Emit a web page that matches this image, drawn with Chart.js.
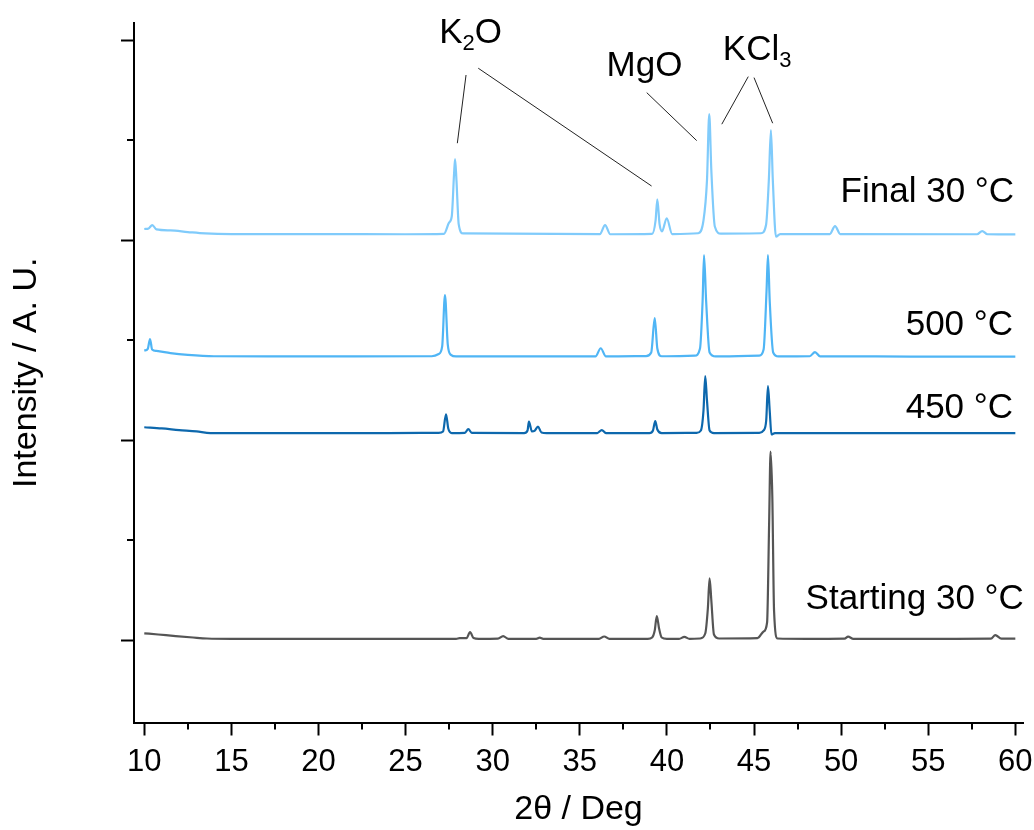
<!DOCTYPE html>
<html>
<head>
<meta charset="utf-8">
<title>XRD patterns</title>
<script src="https://cdn.jsdelivr.net/npm/chart.js@4.4.1/dist/chart.umd.min.js"></script>
<style>
  html, body { margin: 0; padding: 0; background: #ffffff; }
  #wrap { width: 1034px; height: 830px; }
</style>
</head>
<body>
<div id="wrap"><canvas id="xrd" width="1034" height="830"></canvas></div>
<script>
// Stacked XRD patterns (2θ in degrees, intensity in arbitrary units incl. stacking offset)
const startAngles = [10.0, 10.8, 11.8, 12.8, 13.6, 15.0, 18.0, 21.0, 24.0, 27.0, 27.9, 28.1, 28.5, 28.7, 28.9, 29.2, 30.3, 30.6, 30.9, 32.5, 32.7, 32.9, 36.1, 36.4, 36.7, 38.9, 39.15, 39.3, 39.42, 39.55, 39.7, 40.0, 40.7, 41.0, 41.3, 41.9, 42.2, 42.35, 42.45, 42.55, 42.7, 43.0, 45.2, 45.55, 45.75, 45.87, 45.95, 46.05, 46.15, 46.35, 48.0, 50.2, 50.4, 50.7, 53.0, 56.0, 58.6, 58.85, 59.2, 60.0];
const startCounts = [36, 30, 22, 15, 10, 8, 8, 8, 8, 8, 8, 12, 12, 42, 12, 8, 9, 22, 8, 8, 14, 8, 8, 20, 8, 8, 15, 50, 122, 60, 15, 8, 8, 18, 8, 10, 35, 160, 311, 200, 30, 10, 12, 45, 90, 600, 944, 720, 150, 10, 8, 9, 19, 8, 8, 8, 9, 27, 9, 9];

const t450Angles = [10.0, 11.0, 12.0, 13.0, 13.8, 16.0, 20.0, 24.0, 26.9, 27.15, 27.32, 27.45, 27.65, 28.4, 28.6, 28.8, 31.8, 32.0, 32.08, 32.25, 32.4, 32.6, 32.8, 33.1, 36.0, 36.26, 36.5, 39.0, 39.2, 39.33, 39.45, 39.7, 41.7, 41.95, 42.1, 42.2, 42.3, 42.45, 42.7, 45.3, 45.55, 45.7, 45.8, 45.9, 46.0, 46.2, 50.0, 55.0, 60.0];
const t450Counts = [1066, 1060, 1052, 1045, 1037, 1037, 1037, 1037, 1038, 1045, 1131, 1060, 1037, 1038, 1057, 1038, 1037, 1050, 1094, 1045, 1048, 1069, 1040, 1037, 1037, 1052, 1037, 1037, 1050, 1097, 1055, 1037, 1038, 1050, 1150, 1322, 1200, 1050, 1037, 1038, 1050, 1100, 1272, 1150, 1030, 1037, 1037, 1037, 1037];

const t500Angles = [10.0, 10.2, 10.33, 10.45, 10.7, 11.5, 12.5, 14.0, 18.0, 22.0, 26.5, 26.9, 27.1, 27.26, 27.42, 27.6, 27.9, 35.9, 36.2, 36.5, 38.8, 39.1, 39.3, 39.45, 39.7, 41.6, 41.9, 42.05, 42.13, 42.25, 42.45, 42.8, 45.3, 45.55, 45.72, 45.8, 45.9, 46.1, 46.4, 48.2, 48.5, 48.8, 52.0, 56.0, 60.0];
const t500Counts = [1449, 1458, 1507, 1455, 1448, 1437, 1428, 1421, 1420, 1420, 1421, 1432, 1470, 1727, 1480, 1428, 1420, 1420, 1461, 1420, 1422, 1440, 1612, 1460, 1421, 1424, 1460, 1700, 1927, 1700, 1440, 1420, 1424, 1455, 1750, 1927, 1700, 1440, 1420, 1421, 1442, 1420, 1420, 1419, 1419];

const finalAngles = [10.0, 10.25, 10.46, 10.7, 11.5, 12.5, 13.5, 15.0, 20.0, 25.0, 27.2, 27.5, 27.65, 27.78, 27.84, 27.92, 28.05, 28.3, 36.15, 36.45, 36.75, 39.15, 39.35, 39.45, 39.58, 39.72, 39.99, 40.3, 41.8, 42.1, 42.3, 42.43, 42.55, 42.75, 43.1, 45.4, 45.69, 45.85, 45.97, 46.08, 46.26, 46.5, 49.35, 49.65, 49.95, 57.8, 58.1, 58.4, 60.0];
const finalCounts = [2057, 2060, 2077, 2055, 2050, 2042, 2035, 2032, 2032, 2031, 2033, 2090, 2120, 2330, 2406, 2300, 2080, 2035, 2032, 2077, 2031, 2033, 2100, 2206, 2080, 2045, 2111, 2032, 2036, 2100, 2300, 2631, 2350, 2070, 2034, 2036, 2077, 2300, 2552, 2300, 2019, 2032, 2032, 2072, 2032, 2031, 2047, 2031, 2030];

const seriesNames = ['Starting 30 °C', '450 °C', '500 °C', 'Final 30 °C'];

// Axis ticks
const xMajorStep = 5;
const xMinorTicks = [12.5, 17.5, 22.5, 27.5, 32.5, 37.5, 42.5, 47.5, 52.5, 57.5];
const yMajorTicks = [0, 1000, 2000, 3000];
const yMinorTicks = [500, 1500, 2500];

// Phase assignments: label text ("_n" = subscript), label anchor, leader lines [x1, y1, x2, y2]
const phaseLabels = ['K_2O', 'MgO', 'KCl_3'];
const phaseAnchors = [[28.73, 2986], [38.71, 2822], [45.18, 2902]];
const phaseLeaders = [
  [[28.47, 2827], [27.97, 2486], [29.17, 2861], [39.12, 2272]],
  [[38.84, 2739], [41.71, 2499]],
  [[44.67, 2819], [43.15, 2581], [45.0, 2814], [46.07, 2586]]
];

const FONT = '"Liberation Sans", Arial, Helvetica, sans-serif';
const colors = ['#555555', '#0d68ad', '#4fb5f5', '#80cbfb'];
const angleSets = [startAngles, t450Angles, t500Angles, finalAngles];
const countSets = [startCounts, t450Counts, t500Counts, finalCounts];

// Series label placement (right edge in degrees; text baseline in intensity units)
const seriesLabelX = [60.49, 59.87, 59.87, 59.93];
const seriesLabelY = [157, 1112, 1527, 2194];

Chart.defaults.font.family = FONT;
Chart.defaults.color = '#000';

const datasets = seriesNames.map((name, i) => ({
  label: name,
  data: angleSets[i].map((a, k) => ({ x: a, y: countSets[i][k] })),
  borderColor: colors[i],
  borderWidth: 2.2,
  pointRadius: 0,
  fill: false,
  cubicInterpolationMode: 'monotone'
}));

function pairs(arr) {
  const out = [];
  for (let i = 0; i < arr.length; i += 2) out.push([arr[i], arr[i + 1]]);
  return out;
}

function drawFormula(ctx, text, cx, baseY, size) {
  const parts = [];
  for (let i = 0; i < text.length; i++) {
    if (text[i] === '_') { parts.push({ t: text[i + 1], sub: true }); i++; }
    else parts.push({ t: text[i], sub: false });
  }
  const big = size + 'px ' + FONT;
  const small = Math.round(size * 0.62) + 'px ' + FONT;
  let total = 0;
  parts.forEach(p => { ctx.font = p.sub ? small : big; total += ctx.measureText(p.t).width; });
  let x = cx - total / 2;
  ctx.textAlign = 'left';
  ctx.textBaseline = 'alphabetic';
  parts.forEach(p => {
    ctx.font = p.sub ? small : big;
    ctx.fillText(p.t, x, baseY + (p.sub ? size * 0.2 : 0));
    x += ctx.measureText(p.t).width;
  });
}

const decorations = {
  id: 'decorations',
  afterDraw(chart) {
    const { ctx, scales: { x, y } } = chart;
    ctx.save();
    // minor tick marks
    ctx.strokeStyle = '#000';
    ctx.lineWidth = 2;
    xMinorTicks.forEach(v => {
      const px = Math.round(x.getPixelForValue(v));
      ctx.beginPath(); ctx.moveTo(px, x.top); ctx.lineTo(px, x.top + 7); ctx.stroke();
    });
    yMinorTicks.forEach(v => {
      const py = Math.round(y.getPixelForValue(v));
      ctx.beginPath(); ctx.moveTo(y.right, py); ctx.lineTo(y.right - 7, py); ctx.stroke();
    });

    // series labels
    ctx.fillStyle = '#000';
    ctx.font = '35px ' + FONT;
    ctx.textAlign = 'right';
    ctx.textBaseline = 'alphabetic';
    seriesNames.forEach((name, i) => {
      ctx.fillText(name, x.getPixelForValue(seriesLabelX[i]), y.getPixelForValue(seriesLabelY[i]));
    });

    // phase labels and leader lines
    ctx.strokeStyle = '#222';
    ctx.lineWidth = 1;
    phaseLeaders.forEach(lines => {
      pairs(lines).forEach(([p1, p2]) => {
        ctx.beginPath();
        ctx.moveTo(x.getPixelForValue(p1[0]), y.getPixelForValue(p1[1]));
        ctx.lineTo(x.getPixelForValue(p2[0]), y.getPixelForValue(p2[1]));
        ctx.stroke();
      });
    });
    phaseLabels.forEach((lbl, i) => {
      drawFormula(ctx, lbl, x.getPixelForValue(phaseAnchors[i][0]), y.getPixelForValue(phaseAnchors[i][1]), 35);
    });
    ctx.restore();
  }
};

new Chart(document.getElementById('xrd'), {
  type: 'line',
  data: { datasets },
  options: {
    responsive: false,
    animation: false,
    events: [],
    layout: { padding: { top: 23, right: 11, left: 0, bottom: 0 } },
    plugins: { legend: { display: false }, tooltip: { enabled: false } },
    scales: {
      x: {
        type: 'linear',
        min: 9.41,
        max: 60.44,
        afterFit: s => { s.height = 107.5; s.paddingLeft = 0; s.paddingRight = 0; },
        border: { display: true, color: '#000', width: 2 },
        grid: { display: true, drawOnChartArea: false, drawTicks: true, tickLength: 13, tickWidth: 2, tickColor: '#000' },
        ticks: { stepSize: xMajorStep, includeBounds: false, color: '#000', font: { size: 31 }, padding: 8, maxRotation: 0, autoSkip: false },
        title: { display: true, text: '2θ / Deg', color: '#000', font: { size: 34 }, padding: { top: 0, bottom: 0 } }
      },
      y: {
        type: 'linear',
        min: -410,
        max: 3087,
        afterFit: s => { s.width = 134; s.paddingTop = 0; s.paddingBottom = 0; },
        afterBuildTicks: s => { s.ticks = yMajorTicks.map(v => ({ value: v })); },
        border: { display: true, color: '#000', width: 2 },
        grid: { display: true, drawOnChartArea: false, drawTicks: true, tickLength: 13, tickWidth: 2, tickColor: '#000' },
        ticks: { display: false },
        title: { display: true, text: 'Intensity / A. U.', color: '#000', font: { size: 34 }, padding: { top: 6, bottom: 0 } }
      }
    }
  },
  plugins: [decorations]
});
</script>
</body>
</html>
